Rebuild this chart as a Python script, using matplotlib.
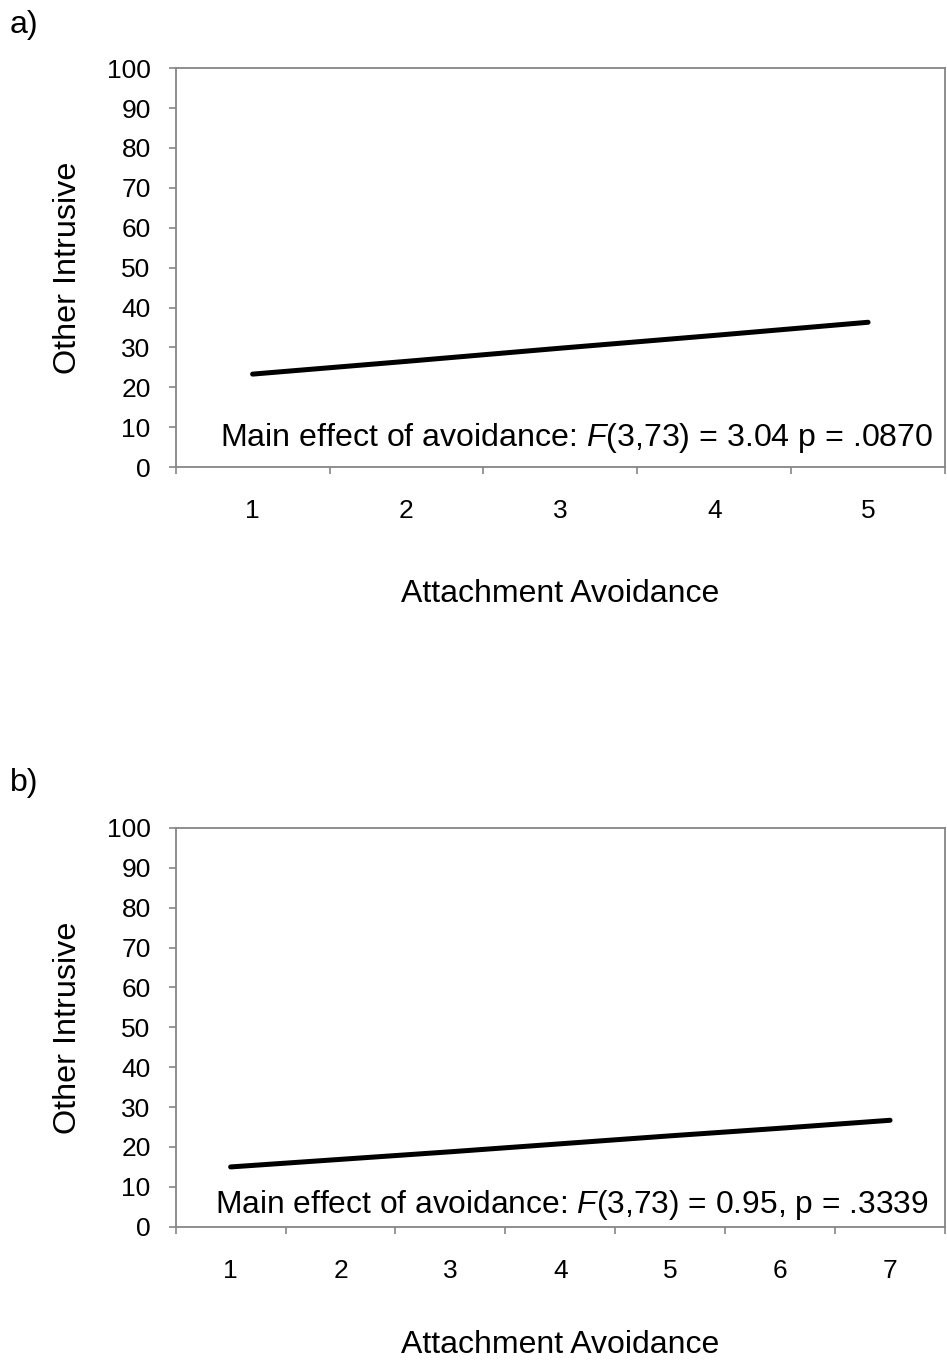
import matplotlib
matplotlib.use("Agg")
import matplotlib.pyplot as plt
from matplotlib.ticker import FixedLocator, NullFormatter

plt.rcParams['font.family'] = ['Liberation Sans', 'DejaVu Sans']
plt.rcParams['mathtext.fontset'] = 'custom'
plt.rcParams['mathtext.rm'] = 'Liberation Sans'
plt.rcParams['mathtext.it'] = 'Liberation Sans:italic'

# panel a) - avoidance scale 1..5
levels_a = [1, 2, 3, 4, 5]
intrusive_a = [23.3, 26.5, 29.8, 33.0, 36.3]
note_a = "Main effect of avoidance: $\\mathit{F}$(3,73) = 3.04 p = .0870"

# panel b) - avoidance scale 1..7
levels_b = [1, 2, 3, 4, 5, 6, 7]
intrusive_b = [15.0, 16.9, 18.8, 20.8, 22.8, 24.7, 26.7]
note_b = "Main effect of avoidance: $\\mathit{F}$(3,73) = 0.95, p = .3339"

y_ticks = list(range(0, 101, 10))
axis_grey = "#868686"

fig = plt.figure(figsize=(9.47, 13.62), dpi=100)


def draw_panel(rect, levels, values, note, note_x, note_y, note_size, xlabel_y, tag, tag_y):
    ax = fig.add_axes(rect)
    n = len(levels)
    pos = range(1, n + 1)
    ax.plot(pos, values, color="black", linewidth=3.6, solid_capstyle="round")

    ax.set_xlim(0.5, n + 0.5)
    ax.set_ylim(0, 100)
    ax.set_yticks(y_ticks)
    ax.set_xticks(list(pos))
    ax.set_xticklabels([str(v) for v in levels])
    # category boundaries carry the tick marks, like a spreadsheet chart
    ax.xaxis.set_minor_locator(FixedLocator([i + 0.5 for i in range(n + 1)]))
    ax.xaxis.set_minor_formatter(NullFormatter())

    ax.tick_params(axis="x", which="major", length=0, pad=23, labelsize=19)
    ax.tick_params(axis="x", which="minor", length=5, width=1.2, color=axis_grey, direction="out")
    ax.tick_params(axis="y", length=5, width=1.2, color=axis_grey, pad=13, labelsize=19)

    for sp in ax.spines.values():
        sp.set_color(axis_grey)
        sp.set_linewidth(1.3)

    ax.set_xlabel("Attachment Avoidance", fontsize=23)
    ax.xaxis.set_label_coords(0.5, xlabel_y)
    ax.xaxis.label.set_va("center")
    ax.set_ylabel("Other Intrusive", fontsize=23.3)
    ax.yaxis.set_label_coords(-0.140, 0.5)
    ax.yaxis.label.set_va("center")

    ax.text(note_x, note_y, note, transform=ax.transAxes, fontsize=note_size,
            ha="left", va="baseline")
    fig.text(10 / 947, tag_y, tag, fontsize=23, ha="left", va="center")
    return ax


draw_panel([0.1855, 0.6571, 0.8124, 0.2928], levels_a, intrusive_a, note_a,
           0.0575, 0.053, 23.1, -0.318, "a)", 1 - 25 / 1362)
draw_panel([0.1855, 0.0993, 0.8124, 0.2928], levels_b, intrusive_b, note_b,
           0.051, 0.034, 22.9, -0.296, "b)", 1 - 783 / 1362)

fig.savefig("out.png", dpi=100, facecolor="white")
